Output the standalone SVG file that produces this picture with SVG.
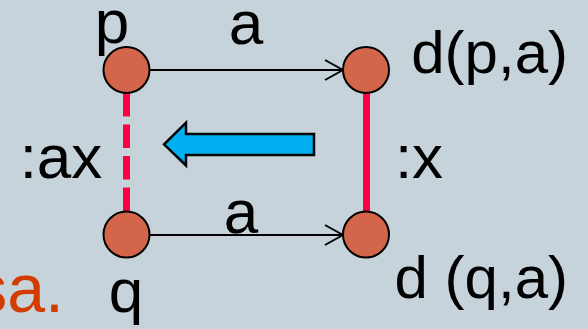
<svg xmlns="http://www.w3.org/2000/svg" width="588" height="329" viewBox="0 0 588 329">
<style>
.lbl{font-family:"Liberation Sans",Arial,sans-serif;font-size:62px;fill:#000}
.dl{font-size:60px}
.node{fill:#D2654A;stroke:#000;stroke-width:2}
.edge{stroke:#000;stroke-width:2;fill:none}
.red{stroke:#FF0040;stroke-width:7;fill:none}
</style>
<defs>
<marker id="open" viewBox="0 0 20 22" refX="19" refY="11" markerWidth="20" markerHeight="22" markerUnits="userSpaceOnUse" orient="auto">
<path d="M1,1 L19,11 L1,21" fill="none" stroke="#000" stroke-width="2"/>
</marker>
</defs>
<rect width="588" height="329" fill="#C7D3DA"/>
<g id="connectors">
<line class="edge" x1="150" y1="70" x2="343" y2="70" marker-end="url(#open)"/>
<line class="edge" x1="150" y1="235" x2="343" y2="235" marker-end="url(#open)"/>
<line class="red" x1="126.5" y1="93" x2="126.5" y2="212" stroke-dasharray="23.5 8"/>
<line class="red" x1="366.5" y1="93" x2="366.5" y2="212"/>
<path d="M164,144.3 L186,122.7 L186,134 L314,134 L314,155 L186,155 L186,165.5 Z" fill="#00B0F0" stroke="#000" stroke-width="2.5" stroke-linejoin="miter"/>
<text class="lbl" x="246" y="43.5" text-anchor="middle">a</text>
<text class="lbl" x="241" y="233" text-anchor="middle">a</text>
<text class="lbl" x="61" y="178" text-anchor="middle">:ax</text>
<text class="lbl" x="419" y="178" text-anchor="middle">:x</text>
</g>
<g id="p"><circle class="node" cx="126.5" cy="70" r="23"/><text class="lbl" x="112" y="43" text-anchor="middle">p</text></g>
<g id="dpa"><circle class="node" cx="366" cy="70" r="23"/><text class="lbl dl" x="568" y="72.5" text-anchor="end">d(p,a)</text></g>
<g id="q"><circle class="node" cx="126.5" cy="234.5" r="23"/><text class="lbl" x="126" y="312" text-anchor="middle">q</text></g>
<g id="dqa"><circle class="node" cx="366" cy="234.5" r="23"/><text class="lbl dl" x="568" y="297.5" text-anchor="end">d (q,a)</text></g>
<text x="64" y="312" text-anchor="end" style="font-family:'Liberation Sans',Arial,sans-serif;font-size:68px;fill:#D23C00">sa.</text>
</svg>
